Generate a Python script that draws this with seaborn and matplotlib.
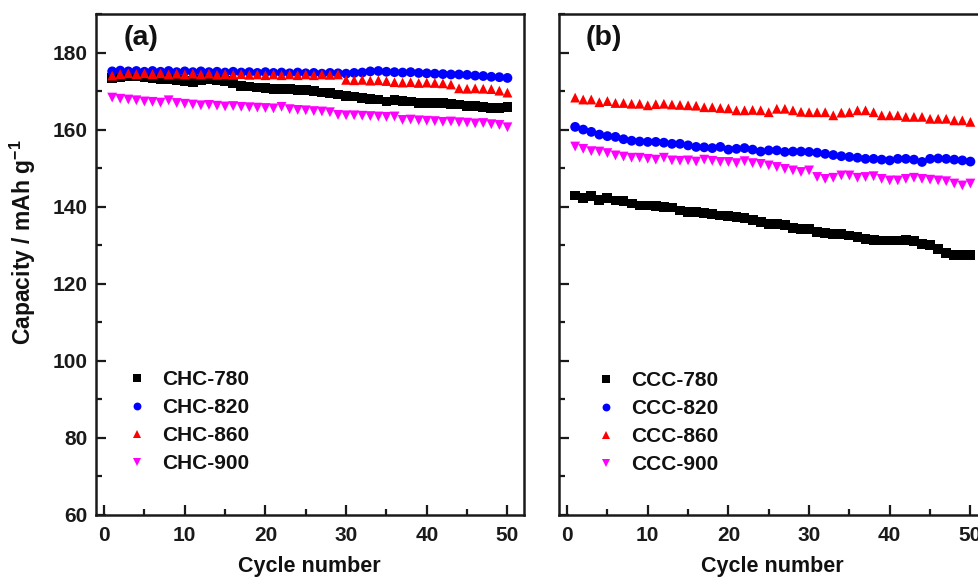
import numpy as np
import pandas as pd
import matplotlib
matplotlib.use("Agg")
import matplotlib.pyplot as plt
import seaborn as sns
from matplotlib.ticker import MultipleLocator

# Cycle index shared by every series
cycles = list(range(1, 51))

# Panel (a): CHC samples, discharge capacity (mAh/g)
chc_780 = [173.4, 173.7, 173.8, 173.8, 173.7, 173.3, 173.1, 173.1, 172.9, 172.7,
           172.4, 172.9, 173.1, 172.8, 172.5, 172.0, 171.4, 171.2, 170.9, 170.7,
           170.5, 170.5, 170.5, 170.3, 170.3, 170.0, 169.6, 169.4, 169.1, 168.7,
           168.6, 168.3, 167.9, 167.8, 167.3, 167.6, 167.4, 167.3, 167.0, 166.8,
           166.8, 166.9, 166.7, 166.5, 166.2, 166.1, 165.8, 165.5, 165.7, 165.9]
chc_820 = [175.1, 175.3, 175.1, 175.2, 175.0, 175.2, 175.0, 175.2, 174.9, 175.1,
           174.9, 175.1, 174.9, 175.0, 174.8, 175.0, 174.8, 174.9, 174.7, 174.9,
           174.7, 174.8, 174.6, 174.8, 174.6, 174.7, 174.5, 174.7, 174.6, 174.5,
           174.7, 174.8, 175.1, 175.2, 175.0, 174.9, 174.8, 174.9, 174.7, 174.6,
           174.5, 174.4, 174.3, 174.3, 174.2, 174.0, 173.9, 173.7, 173.6, 173.4]
chc_860 = [174.0, 174.4, 174.6, 174.4, 174.6, 174.4, 174.6, 174.3, 174.5, 174.3,
           174.5, 174.3, 174.5, 174.2, 174.4, 174.2, 174.4, 174.2, 174.3, 174.1,
           174.3, 174.1, 174.3, 174.1, 174.3, 174.1, 174.3, 174.2, 174.3, 172.9,
           172.8, 172.9, 172.7, 172.8, 172.6, 172.3, 172.2, 172.3, 172.1, 172.2,
           172.1, 172.0, 171.7, 170.7, 170.6, 170.7, 170.6, 170.5, 170.1, 169.6]
chc_900 = [168.3, 168.0, 167.8, 167.6, 167.3, 167.2, 167.0, 167.6, 166.9, 166.7,
           166.5, 166.3, 166.4, 166.2, 166.0, 166.1, 165.9, 165.8, 165.7, 165.6,
           165.5, 165.9, 165.3, 165.1, 165.0, 164.8, 164.7, 164.5, 163.8, 163.7,
           163.7, 163.6, 163.5, 163.4, 163.3, 163.4, 162.5, 162.6, 162.4, 162.3,
           162.2, 162.0, 162.1, 161.9, 161.8, 161.6, 161.7, 161.4, 161.2, 160.6]

# Panel (b): CCC samples, discharge capacity (mAh/g)
ccc_780 = [142.9, 142.3, 142.7, 141.8, 142.3, 141.6, 141.5, 140.8, 140.3, 140.3,
           140.2, 139.9, 139.8, 139.0, 138.6, 138.6, 138.3, 138.2, 137.7, 137.5,
           137.4, 137.1, 136.6, 136.0, 135.6, 135.5, 135.2, 134.5, 134.3, 134.1,
           133.4, 133.2, 132.9, 132.9, 132.5, 132.1, 131.7, 131.4, 131.2, 131.2,
           131.2, 131.4, 131.0, 130.3, 130.1, 129.0, 127.9, 127.4, 127.4, 127.4]
ccc_820 = [160.7, 160.0, 159.4, 158.7, 158.3, 158.1, 157.5, 157.1, 156.9, 156.8,
           156.8, 156.6, 156.3, 156.3, 155.9, 155.5, 155.4, 155.2, 155.5, 154.8,
           155.0, 155.2, 154.8, 154.3, 154.6, 154.6, 154.2, 154.3, 154.3, 154.2,
           154.0, 153.7, 153.4, 153.1, 152.9, 152.7, 152.4, 152.4, 152.2, 152.0,
           152.4, 152.4, 152.2, 151.6, 152.4, 152.5, 152.4, 152.2, 152.0, 151.7]
ccc_860 = [168.3, 167.8, 167.8, 167.1, 167.4, 166.9, 166.9, 166.7, 166.7, 166.3,
           166.6, 166.7, 166.5, 166.4, 166.3, 166.2, 165.8, 165.8, 165.6, 165.5,
           165.0, 165.0, 165.1, 165.0, 164.5, 165.4, 165.4, 165.0, 164.6, 164.5,
           164.5, 164.5, 163.7, 164.4, 164.5, 165.0, 165.0, 164.5, 163.7, 163.7,
           163.7, 163.3, 163.3, 163.3, 162.8, 162.8, 162.8, 162.4, 162.4, 162.0]
ccc_900 = [155.6, 155.0, 154.4, 154.3, 153.9, 153.3, 153.0, 152.7, 152.7, 152.4,
           152.2, 152.7, 152.0, 151.9, 152.0, 151.7, 152.2, 151.9, 151.6, 151.6,
           151.3, 151.8, 151.3, 151.1, 150.7, 150.3, 149.8, 149.4, 149.0, 149.4,
           147.7, 147.2, 147.5, 148.1, 148.1, 147.5, 147.7, 147.9, 147.2, 146.8,
           146.8, 147.2, 147.5, 147.2, 147.0, 146.8, 146.6, 146.0, 145.5, 146.0]

temperatures = ["780", "820", "860", "900"]
marker_list = ["s", "o", "^", "v"]
color_list = ["#000000", "#0000ff", "#ff0000", "#ff00ff"]

sns.set_theme(style="white")
plt.rcParams.update({
    "font.family": ["Liberation Sans", "DejaVu Sans"],
    "font.weight": "bold",
    "axes.labelweight": "bold",
    "mathtext.fontset": "custom",
    "mathtext.rm": "Liberation Sans:bold",
    "mathtext.it": "Liberation Sans:bold",
    "mathtext.bf": "Liberation Sans:bold",
    "axes.linewidth": 1.8,
    "axes.edgecolor": "#1a1a1a",
    "xtick.color": "#1a1a1a",
    "ytick.color": "#1a1a1a",
    "text.color": "#111111",
    "axes.labelcolor": "#111111",
})

fig = plt.figure(figsize=(9.79, 5.77), dpi=100)
ax_a = fig.add_axes([0.0981, 0.1075, 0.4367, 0.8683])
ax_b = fig.add_axes([0.5710, 0.1075, 0.4367, 0.8683])

panels = [
    (ax_a, "(a)", "CHC", [chc_780, chc_820, chc_860, chc_900], (0.0765, 0.186)),
    (ax_b, "(b)", "CCC", [ccc_780, ccc_820, ccc_860, ccc_900], (0.090, 0.184)),
]

for ax, tag, prefix, series, legend_pos in panels:
    names = [f"{prefix}-{t}" for t in temperatures]
    df = pd.DataFrame({
        "cycle": cycles * len(series),
        "capacity": np.concatenate(series),
        "sample": np.repeat(names, len(cycles)),
    })
    sns.scatterplot(
        data=df, x="cycle", y="capacity",
        hue="sample", style="sample",
        hue_order=names, style_order=names,
        palette=dict(zip(names, color_list)),
        markers=dict(zip(names, marker_list)),
        s=50, linewidth=0, ax=ax,
    )
    ax.set_xlim(-1, 52)
    ax.set_ylim(60, 190)
    ax.xaxis.set_major_locator(MultipleLocator(10))
    ax.xaxis.set_minor_locator(MultipleLocator(5))
    ax.yaxis.set_major_locator(MultipleLocator(20))
    ax.yaxis.set_minor_locator(MultipleLocator(10))
    ax.tick_params(which="both", direction="in", width=1.6, labelsize=15,
                   top=False, right=False, bottom=True, left=True)
    ax.tick_params(which="major", length=7)
    ax.tick_params(which="minor", length=4)
    ax.tick_params(axis="x", pad=8)
    ax.tick_params(axis="y", pad=6)
    ax.set_xlabel("Cycle number", fontsize=15.5, labelpad=8)
    ax.set_ylabel("")
    ax.text(0.105, 0.952, tag, transform=ax.transAxes, fontsize=20.5,
            fontweight="bold", ha="center", va="center")
    sns.move_legend(
        ax, "center left", bbox_to_anchor=legend_pos, title=None,
        frameon=False, fontsize=15, handlelength=0.8, handletextpad=0.8,
        labelspacing=0.43, borderpad=0, borderaxespad=0, markerscale=0.8,
    )

ax_a.set_ylabel(r"Capacity / mAh g$^{-1}$", fontsize=16.5)
ax_a.yaxis.set_label_coords(-0.135, 0.545)
ax_b.tick_params(labelleft=False)

fig.savefig("out.png", dpi=100)
